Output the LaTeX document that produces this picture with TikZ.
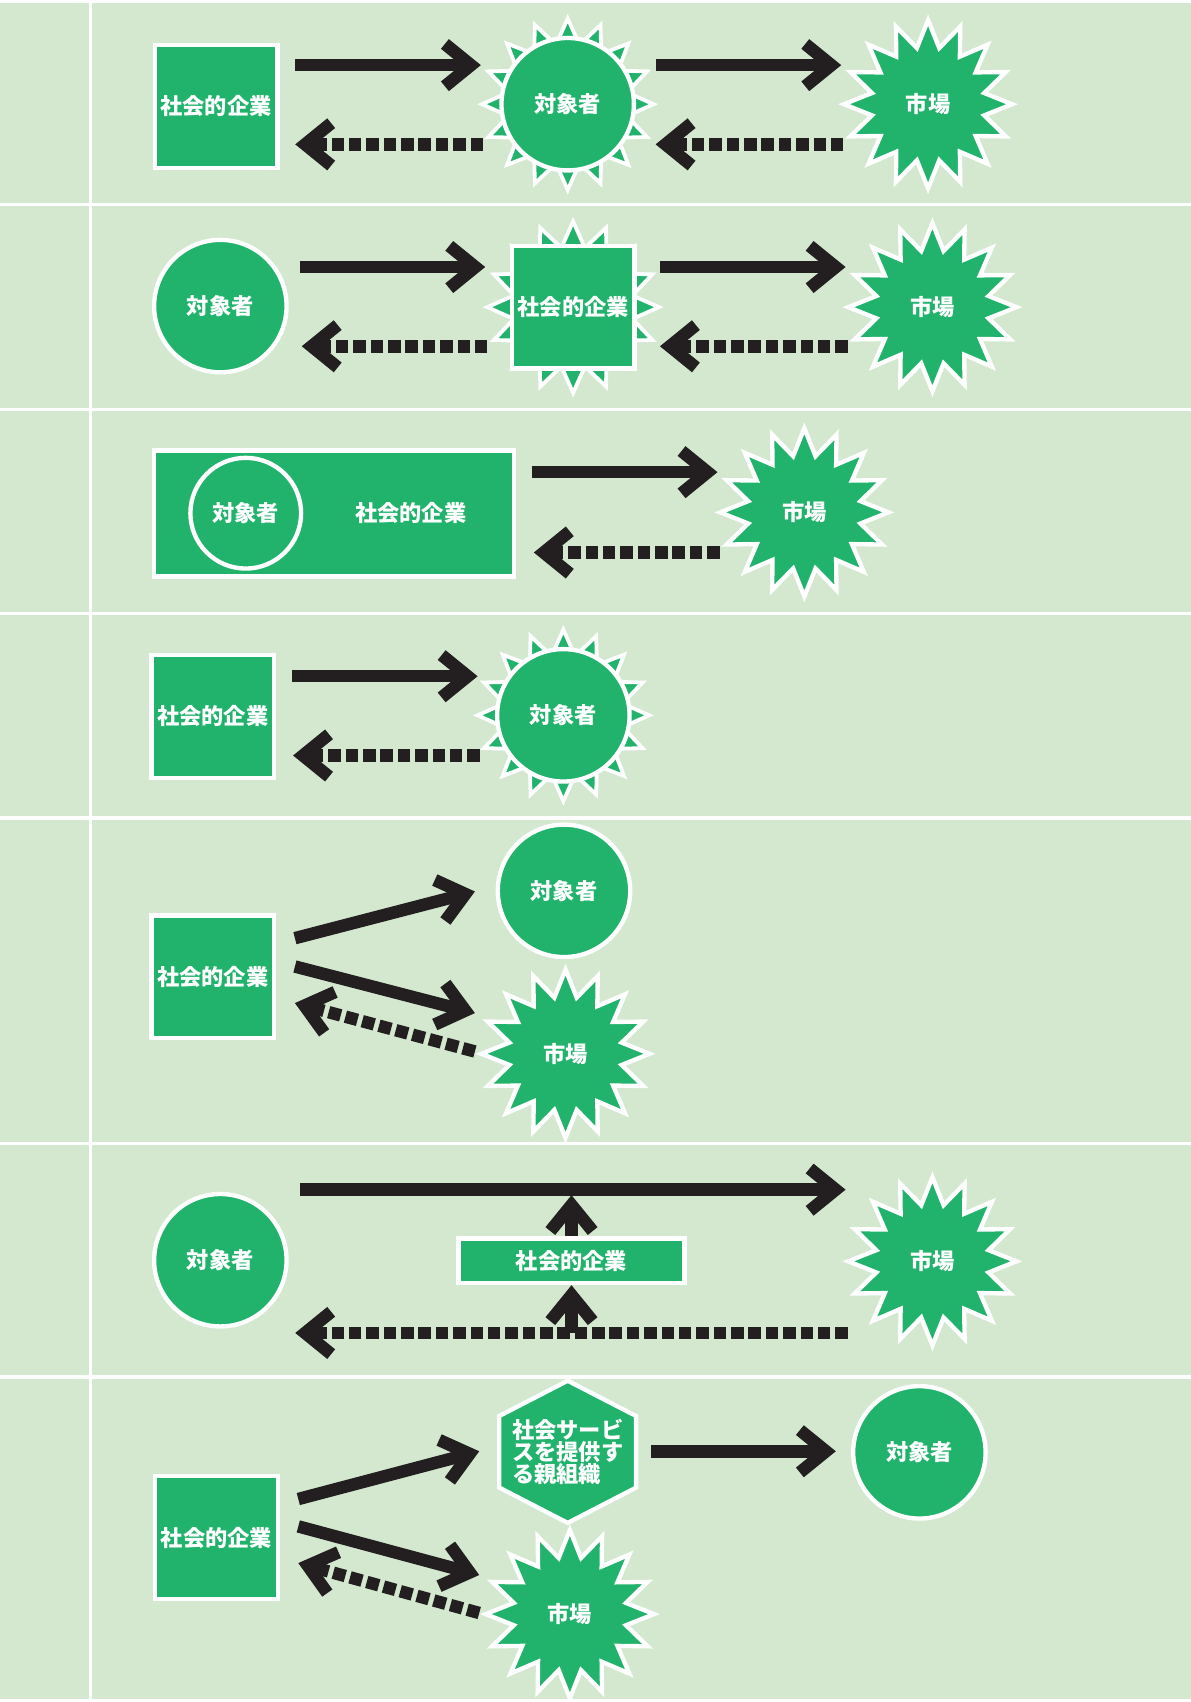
\documentclass[tikz,border=0pt]{standalone}
\usepackage{fontspec}
\newfontfamily\jpfont{Noto Sans CJK JP}
\usetikzlibrary{shapes.geometric,arrows.meta,calc}
\definecolor{bg}{RGB}{211,232,206}
\definecolor{leaf}{RGB}{33,179,108}
\definecolor{ink}{RGB}{35,31,32}
\tikzset{
  lbl/.style={font=\jpfont\bfseries\fontsize{20.5pt}{20pt}\selectfont, text=white, inner sep=0pt},
  boxnode/.style={lbl, rectangle, fill=leaf, draw=white, line width=4pt, minimum size=113pt},
  disc/.style={lbl, circle, fill=leaf, draw=white, line width=4pt, minimum size=122pt},
  burst/.style={lbl, star, star points=16, star point ratio=1.47, fill=leaf, draw=white, line width=4pt, minimum size=155pt},
  rays/.style={star, star points=16, star point ratio=1.42, fill=leaf, draw=white, line width=3.5pt, minimum size=158pt, inner sep=0pt},
  flow/.style={draw=ink, line width=11.5pt, -{Straight Barb[length=24pt, width=39pt]}},
  back/.style={flow, dash pattern=on 11.5pt off 4.5pt},
  grid/.style={white, line width=3pt},
}
\begin{document}
\begin{tikzpicture}[x=1pt, y=-1pt]
\useasboundingbox (0,0) rectangle (1097,1568);
% panel background and separating lines
\fill[bg] (0,0) rectangle (1097,1568);
\foreach \yy in {1.5,188.5,377,565.5,753.5,1053.5,1268.5,1566.5}
  \draw[grid] (0,\yy) -- (1097,\yy);
\draw[grid] (83.5,0) -- (83.5,1568);

% ---- row 1: enterprise -> target -> market
\node[boxnode] (s1) at (199,98) {社会的企業};
\node[rays] (t1r) at (523,96) {};
\node[disc] (t1) at (523,96) {対象者};
\node[burst] (m1) at (855,96) {市場};
\draw[flow] ($(s1)+(73,-38)$) -- ($(t1)+(-80,-36)$);
\draw[back] ($(t1)+(-78,37)$) -- ($(s1)+(73,35)$);
\draw[flow] ($(t1)+(81,-36)$) -- ($(m1)+(-80,-36)$);
\draw[back] ($(m1)+(-78,37)$) -- ($(t1)+(81,37)$);

% ---- row 2: target -> enterprise -> market
\node[disc] (c2) at (203,282) {対象者};
\node[rays] (q2r) at (528,283) {};
\node[boxnode] (q2) at (528,283) {社会的企業};
\node[burst] (m2) at (859,283) {市場};
\draw[flow] ($(c2)+(73,-36)$) -- ($(q2)+(-81,-37)$);
\draw[back] ($(q2)+(-79,36)$) -- ($(c2)+(75,37)$);
\draw[flow] ($(q2)+(80,-37)$) -- ($(m2)+(-80,-37)$);
\draw[back] ($(m2)+(-78,36)$) -- ($(q2)+(80,36)$);

% ---- row 3: target inside enterprise -> market
\node[rectangle, fill=leaf, draw=white, line width=4pt, minimum width=332pt, minimum height=116pt] (r3) at (307.8,473) {};
\node[lbl, circle, fill=leaf, draw=white, line width=4pt, minimum size=102pt] (c3) at (226.4,472.8) {対象者};
\node[lbl] (e3) at (378.5,473) {社会的企業};
\node[burst] (m3) at (741,472) {市場};
\draw[flow] ($(r3.east)+(14,-38)$) -- ($(m3)+(-80,-37)$);
\draw[back] ($(m3)+(-78,37)$) -- ($(r3.east)+(16,36)$);

% ---- row 4: enterprise -> target
\node[boxnode] (s4) at (196,660) {社会的企業};
\node[rays] (t4r) at (519,659) {};
\node[disc] (t4) at (519,659) {対象者};
\draw[flow] ($(s4)+(73,-37)$) -- ($(t4)+(-79,-36)$);
\draw[back] ($(t4)+(-77,37)$) -- ($(s4)+(74,36)$);

% ---- row 5: enterprise -> target and market
\node[boxnode] (s5) at (196,900) {社会的企業};
\node[disc] (c5) at (519.6,820.7) {対象者};
\node[burst] (m5) at (521,970.8) {市場};
\draw[flow] ($(s5)+(75.7,-35.7)$) -- ($(c5)+(-82.1,0.6)$);
\draw[flow] ($(s5)+(75.7,-9.6)$) -- ($(m5)+(-83.5,-37.5)$);
\draw[back] ($(m5)+(-83.5,-2.1)$) -- ($(s5)+(75.7,24.1)$);

% ---- row 6: enterprise between target and market
\node[disc] (c6) at (203,1161) {対象者};
\node[burst] (m6) at (859,1162) {市場};
\node[lbl, rectangle, fill=leaf, draw=white, line width=4pt, minimum width=208pt, minimum height=41pt] (b6) at (526.5,1161.5) {社会的企業};
\coordinate (top6) at (526.5,1101);
\coordinate (low6) at (526.5,1228);
\draw[flow] ($(c6)+(73,-65)$) -- ($(m6)+(-80,-66)$);
\draw[back] ($(m6)+(-78,66)$) -- ($(c6)+(69,67)$);
\draw[flow] (b6.north) -- (top6);
\draw[flow] (low6) -- (b6.south);

% ---- row 7: enterprise -> parent organisation -> target, and market
\node[boxnode] (s7) at (199.5,1416.5) {社会的企業};
\coordinate (h7c) at (523,1337.5);
\draw[white, line width=4pt, fill=leaf] ($(h7c)+(0,-65.5)$) -- ($(h7c)+(63,-33)$) -- ($(h7c)+(63,33)$)
  -- ($(h7c)+(0,65.5)$) -- ($(h7c)+(-63,33)$) -- ($(h7c)+(-63,-33)$) -- cycle;
\node[lbl, align=left] (h7) at (h7c) {社会サービ\\スを提供す\\る親組織};
\node[disc] (c7) at (847,1338) {対象者};
\node[burst] (m7) at (525,1487) {市場};
\draw[flow] ($(s7)+(75.3,-35.5)$) -- ($(h7)+(-81.5,-0.5)$);
\draw[flow] ($(s7)+(75.3,-10.3)$) -- ($(m7)+(-83.5,-36)$);
\draw[back] ($(m7)+(-83.5,-1)$) -- ($(s7)+(75.3,23.5)$);
\draw[flow] ($(h7)+(77,-0.5)$) -- ($(c7)+(-77,-1)$);
\end{tikzpicture}
\end{document}
